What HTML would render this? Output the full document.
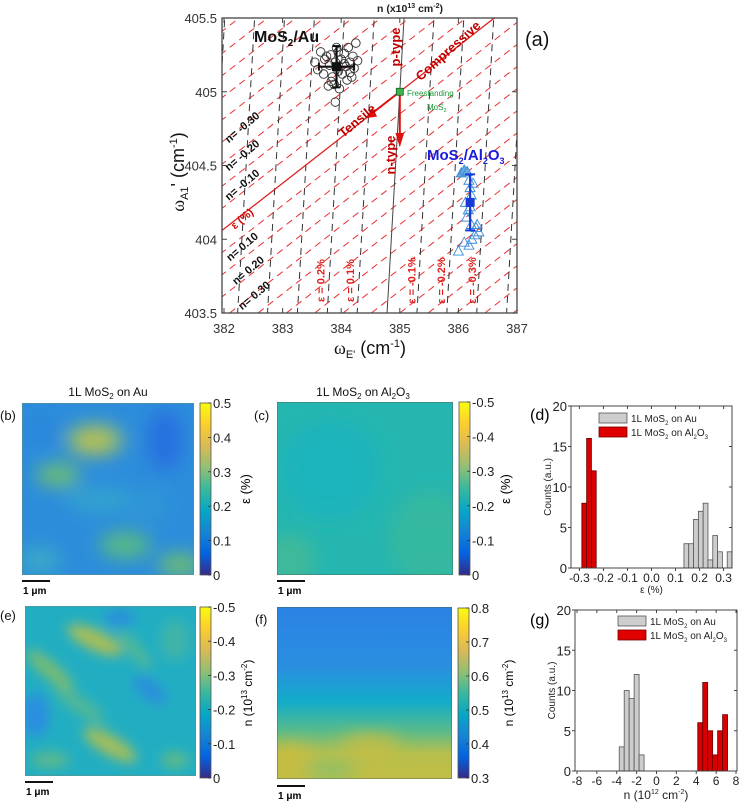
<!DOCTYPE html>
<html><head><meta charset="utf-8">
<style>
html,body{margin:0;padding:0;background:#fff}
svg{display:block;font-family:"Liberation Sans",Arial,sans-serif}
</style></head>
<body>
<svg id="fig" width="742" height="805" viewBox="0 0 742 805" xmlns="http://www.w3.org/2000/svg">
<defs>
<linearGradient id="parula" x1="0" y1="1" x2="0" y2="0">
<stop offset="0" stop-color="#352A87"/><stop offset="0.125" stop-color="#0363E1"/><stop offset="0.25" stop-color="#1485D4"/><stop offset="0.375" stop-color="#06A7C6"/><stop offset="0.5" stop-color="#38B99E"/><stop offset="0.625" stop-color="#92BF73"/><stop offset="0.75" stop-color="#D9BA56"/><stop offset="0.875" stop-color="#FCCE2E"/><stop offset="1" stop-color="#F9FB0E"/>
</linearGradient>
<filter id="blur8" x="-30%" y="-30%" width="160%" height="160%"><feGaussianBlur stdDeviation="9"/></filter>
<filter id="blur5" x="-30%" y="-30%" width="160%" height="160%"><feGaussianBlur stdDeviation="6"/></filter>
<clipPath id="clipA"><rect x="222" y="18" width="295" height="295"/></clipPath>
<clipPath id="clipB"><rect x="22" y="403" width="172" height="172"/></clipPath>
<clipPath id="clipC"><rect x="277" y="402" width="176" height="173"/></clipPath>
<clipPath id="clipE"><rect x="25" y="606" width="171" height="170"/></clipPath>
<clipPath id="clipF"><rect x="277" y="607" width="175" height="172"/></clipPath>
<linearGradient id="fgrad" x1="0" y1="0" x2="0" y2="1">
<stop offset="0" stop-color="#2b82e4"/><stop offset="0.35" stop-color="#2a8fe0"/><stop offset="0.55" stop-color="#12acc9"/><stop offset="0.72" stop-color="#58bb8c"/><stop offset="0.85" stop-color="#b6bf4c"/><stop offset="1" stop-color="#c2bd44"/>
</linearGradient>
</defs>

<!-- ================= PANEL A ================= -->
<g id="panelA">
<rect x="222" y="18" width="295" height="295" fill="#fff"/>
<g id="aLines" clip-path="url(#clipA)"></g>
<g id="aMarks"></g>
<rect x="222" y="18" width="295" height="295" fill="none" stroke="#444" stroke-width="1.3"/>
<g id="aTicks"></g>
<text x="410" y="12" font-size="10.5" font-weight="bold" text-anchor="middle" fill="#222">n (x10<tspan font-size="7" dy="-4">13</tspan><tspan dy="4"> cm</tspan><tspan font-size="7" dy="-4">-2</tspan><tspan dy="4">)</tspan></text>
<text x="525" y="46" font-size="20" fill="#111">(a)</text>
<text x="370" y="354" font-size="18" text-anchor="middle" fill="#111"><tspan font-family="Liberation Serif">ω</tspan><tspan font-size="11" dy="4">E'</tspan><tspan dy="-4"> (cm</tspan><tspan font-size="11" dy="-7">-1</tspan><tspan dy="7">)</tspan></text>
<text transform="translate(184,172) rotate(-90)" font-size="18" text-anchor="middle" fill="#111"><tspan font-family="Liberation Serif">ω</tspan><tspan font-size="11" dy="4">A1</tspan><tspan dy="-4">' (cm</tspan><tspan font-size="11" dy="-7">-1</tspan><tspan dy="7">)</tspan></text>
<text x="254" y="42" font-size="16" font-weight="bold" fill="#111">MoS<tspan font-size="10" dy="4">2</tspan><tspan dy="-4">/Au</tspan></text>
<text x="427" y="160" font-size="15" font-weight="bold" fill="#1a1adc">MoS<tspan font-size="9" dy="4">2</tspan><tspan dy="-4">/Al</tspan><tspan font-size="9" dy="4">2</tspan><tspan dy="-4">O</tspan><tspan font-size="9" dy="4">3</tspan></text>
<text transform="translate(400,47) rotate(-90)" font-size="13" font-weight="bold" fill="#c00000" text-anchor="middle">p-type</text>
<text transform="translate(395,155) rotate(-90)" font-size="13" font-weight="bold" fill="#c00000" text-anchor="middle">n-type</text>
<text transform="translate(451,54) rotate(-42)" font-size="13" font-weight="bold" fill="#c00000" text-anchor="middle">Compressive</text>
<text transform="translate(360,124) rotate(-40)" font-size="13" font-weight="bold" fill="#c00000" text-anchor="middle">Tensile</text>
<text x="407" y="96" font-size="8" fill="#1a9a3a">Freestanding</text>
<text x="427" y="110" font-size="8" fill="#1a9a3a">MoS<tspan font-size="5.5" dy="2">2</tspan></text>
</g>

<!-- ================= MAPS ================= -->
<text x="108" y="396" font-size="12" text-anchor="middle" fill="#111">1L MoS<tspan font-size="8" dy="3">2</tspan><tspan dy="-3"> on Au</tspan></text>
<text x="363" y="396" font-size="12" text-anchor="middle" fill="#111">1L MoS<tspan font-size="8" dy="3">2</tspan><tspan dy="-3"> on Al</tspan><tspan font-size="8" dy="3">2</tspan><tspan dy="-3">O</tspan><tspan font-size="8" dy="3">3</tspan></text>
<text x="0" y="420" font-size="13" fill="#111">(b)</text>
<text x="254" y="420" font-size="13" fill="#111">(c)</text>
<text x="0" y="620" font-size="13" fill="#111">(e)</text>
<text x="255" y="624" font-size="13" fill="#111">(f)</text>

<!-- map b -->
<g clip-path="url(#clipB)">
<rect x="22" y="403" width="172" height="172" fill="#2c8ddb"/>
<g filter="url(#blur8)">
<ellipse cx="95" cy="440" rx="28" ry="16" fill="#9cc064"/>
<ellipse cx="92" cy="442" rx="12" ry="7" fill="#c8bd48"/>
<ellipse cx="58" cy="475" rx="22" ry="12" fill="#6cbb78"/>
<ellipse cx="125" cy="545" rx="26" ry="14" fill="#56b888"/>
<ellipse cx="180" cy="565" rx="22" ry="12" fill="#6cbc74"/>
<ellipse cx="165" cy="440" rx="18" ry="30" fill="#2570e0"/>
<ellipse cx="40" cy="430" rx="18" ry="14" fill="#2a86dc"/>
<ellipse cx="100" cy="500" rx="35" ry="14" fill="#30a0d0"/>
<ellipse cx="40" cy="560" rx="20" ry="14" fill="#3aa8c8"/>
<ellipse cx="150" cy="505" rx="18" ry="18" fill="#2e96d6"/>
</g>
<rect x="22" y="403" width="172" height="172" fill="none" stroke="#6a8a80" stroke-width="1"/>
</g>
<!-- map c -->
<g clip-path="url(#clipC)">
<rect x="277" y="402" width="176" height="173" fill="#25b6b0"/>
<g filter="url(#blur8)">
<ellipse cx="330" cy="470" rx="50" ry="50" fill="#1cb4bc"/>
<ellipse cx="430" cy="540" rx="40" ry="50" fill="#36b8a0"/>
<ellipse cx="290" cy="560" rx="25" ry="25" fill="#40b99a"/>
</g>
<rect x="277" y="402" width="176" height="173" fill="none" stroke="#4a6a60" stroke-width="1"/>
</g>
<!-- map e -->
<g clip-path="url(#clipE)">
<rect x="25" y="606" width="171" height="170" fill="#22aec2"/>
<g filter="url(#blur5)">
<ellipse cx="95" cy="640" rx="30" ry="10" fill="#a8bd58" transform="rotate(25 95 640)"/>
<ellipse cx="120" cy="618" rx="16" ry="8" fill="#2a8ede"/>
<ellipse cx="50" cy="670" rx="30" ry="8" fill="#7cbc70" transform="rotate(40 50 670)"/>
<ellipse cx="110" cy="745" rx="30" ry="10" fill="#a2bd5c" transform="rotate(30 110 745)"/>
<ellipse cx="35" cy="715" rx="14" ry="22" fill="#2a8ee0"/>
<ellipse cx="150" cy="690" rx="20" ry="10" fill="#2a90dc" transform="rotate(40 150 690)"/>
<ellipse cx="80" cy="705" rx="30" ry="8" fill="#52b894" transform="rotate(35 80 705)"/>
<ellipse cx="50" cy="760" rx="20" ry="8" fill="#5cb98c"/>
<ellipse cx="175" cy="640" rx="15" ry="20" fill="#40b4a8"/>
<ellipse cx="135" cy="650" rx="25" ry="6" fill="#58b890" transform="rotate(50 135 650)"/>
<ellipse cx="175" cy="760" rx="14" ry="8" fill="#60ba88"/>
</g>
<rect x="25" y="606" width="171" height="170" fill="none" stroke="#6a8a80" stroke-width="1"/>
</g>
<!-- map f -->
<g clip-path="url(#clipF)">
<rect x="277" y="607" width="175" height="172" fill="url(#fgrad)"/>
<g filter="url(#blur8)">
<ellipse cx="330" cy="770" rx="25" ry="10" fill="#8cc068"/>
<ellipse cx="290" cy="760" rx="20" ry="15" fill="#c8bc40"/>
<ellipse cx="370" cy="745" rx="30" ry="10" fill="#c6bd42"/>
</g>
<rect x="277" y="607" width="175" height="172" fill="none" stroke="#4a6a60" stroke-width="1"/>
</g>

<!-- scale bars -->
<g><rect x="22" y="580" width="28" height="2" fill="#111"/><text x="23" y="594" font-size="10" font-weight="bold">1 μm</text></g>
<g><rect x="277" y="580" width="28" height="2" fill="#111"/><text x="278" y="594" font-size="10" font-weight="bold">1 μm</text></g>
<g><rect x="25" y="781" width="28" height="2" fill="#111"/><text x="26" y="795" font-size="10" font-weight="bold">1 μm</text></g>
<g><rect x="277" y="785" width="28" height="2" fill="#111"/><text x="278" y="799" font-size="10" font-weight="bold">1 μm</text></g>

<g id="cbars"></g>
<text transform="translate(250,489) rotate(-90)" font-size="13" text-anchor="middle">ε (%)</text>
<text transform="translate(510,489) rotate(-90)" font-size="13" text-anchor="middle">ε (%)</text>
<text transform="translate(252,693) rotate(-90)" font-size="12" text-anchor="middle">n (10<tspan font-size="8" dy="-5">13</tspan><tspan dy="5"> cm</tspan><tspan font-size="8" dy="-5">-2</tspan><tspan dy="5">)</tspan></text>
<text transform="translate(513,693) rotate(-90)" font-size="12" text-anchor="middle">n (10<tspan font-size="8" dy="-5">13</tspan><tspan dy="5"> cm</tspan><tspan font-size="8" dy="-5">-2</tspan><tspan dy="5">)</tspan></text>

<!-- histograms -->
<g id="histD"></g>
<g id="histG"></g>
<text x="530" y="420" font-size="16">(d)</text>
<text x="530" y="625" font-size="16">(g)</text>
</svg>

<script>
// ---------- Panel (a) data ----------
const aXTicks = [382, 383, 384, 385, 386, 387];
const aYTicks = [403.5, 404, 404.5, 405, 405.5];
const strainOffsets = [-14,-13,-12,-11,-10,-9,-8,-7,-6,-5,-4,-3,-2,-1,1,2,3,4,5,6,7,8,9,10,11,12,13,14,15];
const dopingOffsets = [-6,-5,-4,-3,-2,-1,1,2,3,4,5];
const auE = [383.55,383.6,383.65,383.7,383.72,383.78,383.8,383.82,383.85,383.88,383.9,383.92,383.95,383.97,384.0,384.02,384.05,384.08,384.1,384.12,384.15,384.18,384.2,384.22,384.25,384.28,383.75,383.9,384.05,383.95,384.15,383.83];
const auA = [405.2,405.15,405.27,405.12,405.22,405.04,405.18,405.25,405.1,405.05,405.2,405.3,405.14,405.02,405.22,405.12,405.26,405.17,405.08,405.3,405.2,405.1,405.24,405.16,405.33,405.21,405.24,404.93,405.19,405.27,405.13,405.07];
const alE = [386.05,386.1,386.15,386.18,386.2,386.22,386.25,386.12,386.17,386.2,386.14,386.22,386.3,386.35,386.28,386.1,386.18,386.23,386.0,386.32];
const alA = [404.45,404.47,404.46,404.4,404.35,404.3,404.38,404.25,404.2,404.22,404.15,404.1,404.08,404.05,404.03,403.98,403.96,404.0,403.92,404.1];
const auMean = [383.92, 405.17], auErrE = 0.3, auErrA = 0.14;
const alMean = [386.2, 404.25], alErrA = 0.19;
const nLabels = ["n= -0.30","n= -0.20","n= -0.10","ε (%)","n= 0.10","n= 0.20","n= 0.30"];
const nLabelA1 = [404.74, 404.55, 404.35, 404.12, 403.93, 403.77, 403.6];
const epsLabels = ["ε = 0.2%","ε = 0.1%","ε = -0.1%","ε = -0.2%","ε = -0.3%"];
const epsLabelE = [383.65, 384.15, 385.2, 385.7, 386.23];

const NS = "http://www.w3.org/2000/svg";
function mk(tag, attrs, parent){const e=document.createElementNS(NS,tag);for(const k in attrs)e.setAttribute(k,attrs[k]);parent.appendChild(e);return e;}
const X = v => 224 + (v-382)*58.6;
const Y = v => 313 - (v-403.5)*147.5;
const SLOPE = 0.31, SSTEP = 0.15, DSLOPE = 0.145, DSTEP = 0.51;

const gL = document.getElementById('aLines');
strainOffsets.forEach(k=>{
  const f = e => 405 + SLOPE*(e-385) + k*SSTEP;
  const l = mk('line',{x1:X(380),y1:Y(f(380)),x2:X(389),y2:Y(f(389)),stroke:'#e83030','stroke-width':1,'stroke-dasharray':'7,5'},gL);
  
  
});
dopingOffsets.forEach(m=>{
  const f = a => 385 + (a-405)*DSLOPE + m*DSTEP;
  const l = mk('line',{x1:X(f(403)),y1:Y(403),x2:X(f(406)),y2:Y(406),stroke:'#333','stroke-width':1,'stroke-dasharray':'7,5'},gL);
  
  
});
{
  const f = e => 405 + SLOPE*(e-385);
  const l = mk('line',{x1:X(380),y1:Y(f(380)),x2:X(389),y2:Y(f(389)),stroke:'#e02020','stroke-width':1.3},gL);
  
  
  const g = a => 385 + (a-405)*DSLOPE;
  const l2 = mk('line',{x1:X(g(403)),y1:Y(403),x2:X(g(406)),y2:Y(406),stroke:'#444','stroke-width':1},gL);
  
  
}
nLabels.forEach((t,i)=>{
  const isEps = t.startsWith('ε');
  const tx = mk('text',{transform:`translate(${X(382.35)+ (i>4?(i-4)*6:0)},${Y(nLabelA1[i])}) rotate(-40)`,'font-size':11,'font-weight':'bold',fill:isEps?'#d00000':'#111','text-anchor':'middle'},gL);
  tx.textContent=t;
  
  
});
epsLabels.forEach((t,i)=>{
  const tx = mk('text',{transform:`translate(${X(epsLabelE[i])+4},${Y(403.72)}) rotate(-90)`,'font-size':11,'font-weight':'bold',fill:'#e02020','text-anchor':'middle'},gL);
  tx.textContent=t;
  
  
});

const gM = document.getElementById('aMarks');
auE.forEach((e,i)=>{
  const c = mk('circle',{cx:X(e),cy:Y(auA[i]),r:4.3,fill:'none',stroke:'#333','stroke-width':0.9},gM);
  
  
});
alE.forEach((e,i)=>{
  const x=X(e), y=Y(alA[i]);
  const p = mk('polygon',{points:`${x},${y-5} ${x-5},${y+4} ${x+5},${y+4}`,fill:i<3?'#6aa8e0':'none',stroke:'#3a8ad8','stroke-width':0.9},gM);
  
  
});
{
  const g = mk('g',{},gM);
  
  
  const cx=X(auMean[0]), cy=Y(auMean[1]);
  mk('line',{x1:X(auMean[0]-auErrE),y1:cy,x2:X(auMean[0]+auErrE),y2:cy,stroke:'#111','stroke-width':2.2},g);
  mk('line',{x1:cx,y1:Y(auMean[1]-auErrA),x2:cx,y2:Y(auMean[1]+auErrA),stroke:'#111','stroke-width':2.2},g);
  [auMean[0]-auErrE,auMean[0]+auErrE].forEach(v=>mk('line',{x1:X(v),y1:cy-4,x2:X(v),y2:cy+4,stroke:'#111','stroke-width':2},g));
  [auMean[1]-auErrA,auMean[1]+auErrA].forEach(v=>mk('line',{x1:cx-4,y1:Y(v),x2:cx+4,y2:Y(v),stroke:'#111','stroke-width':2},g));
  mk('rect',{x:cx-4.5,y:cy-4.5,width:9,height:9,fill:'#111'},g);
  const g2 = mk('g',{},gM);
  
  
  const ax=X(alMean[0]), ay=Y(alMean[1]);
  mk('line',{x1:ax,y1:Y(alMean[1]-alErrA),x2:ax,y2:Y(alMean[1]+alErrA),stroke:'#1a3ad8','stroke-width':2.2},g2);
  [alMean[1]-alErrA,alMean[1]+alErrA].forEach(v=>mk('line',{x1:ax-5,y1:Y(v),x2:ax+5,y2:Y(v),stroke:'#1a3ad8','stroke-width':2},g2));
  mk('rect',{x:ax-4.5,y:ay-4.5,width:9,height:9,fill:'#1a3ad8'},g2);
  const ga = mk('g',{stroke:'#e01010','stroke-width':2,fill:'#e01010'},gM);
  
  
  const ox=X(385), oy=Y(405);
  mk('line',{x1:ox,y1:oy,x2:ox,y2:Y(404.7)},ga);
  mk('polygon',{points:`${ox-3},${Y(404.7)-2} ${ox+3},${Y(404.7)-2} ${ox},${Y(404.66)+2}`},ga);
  const tx=X(384.45), ty=Y(404.83);
  mk('line',{x1:ox,y1:oy,x2:tx,y2:ty},ga);
  mk('polygon',{points:`${tx},${ty} ${tx+8},${ty-1} ${tx+5},${ty-7}`},ga);
  const sq = mk('rect',{x:ox-3.5,y:oy-3.5,width:7,height:7,fill:'#3cb44a',stroke:'#1a5a20','stroke-width':0.8},gM);
  
  
}
const gT = document.getElementById('aTicks');
aXTicks.forEach(v=>{
  mk('line',{x1:X(v),y1:313,x2:X(v),y2:308,stroke:'#444'},gT);
  mk('line',{x1:X(v),y1:18,x2:X(v),y2:23,stroke:'#444'},gT);
  const t = mk('text',{x:X(v),y:333,'font-size':13,'text-anchor':'middle',fill:'#333'},gT);
  t.textContent=v;
  
  
});
aYTicks.forEach(v=>{
  mk('line',{x1:222,y1:Y(v),x2:227,y2:Y(v),stroke:'#444'},gT);
  mk('line',{x1:517,y1:Y(v),x2:512,y2:Y(v),stroke:'#444'},gT);
  const t = mk('text',{x:217,y:Y(v)+5,'font-size':13,'text-anchor':'end',fill:'#333'},gT);
  t.textContent=v;
  
  
});

// ---------- Colorbars ----------
const cbB = ["0.5","0.4","0.3","0.2","0.1","0"];
const cbC = ["-0.5","-0.4","-0.3","-0.2","-0.1","0"];
const cbE = ["-0.5","-0.4","-0.3","-0.2","-0.1","0"];
const cbF = ["0.8","0.7","0.6","0.5","0.4","0.3"];
const gC = document.getElementById('cbars');
[[cbB,200,403,575,'colorbar-b'],[cbC,459,402,575,'colorbar-c'],[cbE,200,607,778,'colorbar-e'],[cbF,458,608,778,'colorbar-f']].forEach(([labs,x,y0,y1,name])=>{
  const g = mk('g',{},gC);
  
  
  mk('rect',{x:x,y:y0,width:11,height:y1-y0,fill:'url(#parula)',stroke:'#555','stroke-width':0.8},g);
  labs.forEach((s,i)=>{
    const y = y0 + (y1-y0)*i/(labs.length-1);
    mk('line',{x1:x+8,y1:y,x2:x+11,y2:y,stroke:'#333','stroke-width':0.8},g);
    const t = mk('text',{x:x+13,y:y+5,'font-size':13,fill:'#222'},g);
    t.textContent=s;
    
    
  });
});

// ---------- Histograms ----------
const dAuCenters = [0.145,0.165,0.185,0.205,0.225,0.245,0.265,0.285,0.305,0.325];
const dAuCounts  = [3,3,6,7,8,1,4,2,0,2];
const dAlCenters = [-0.28,-0.26,-0.24];
const dAlCounts  = [8,16,12];
const dXTicks = [-0.3,-0.2,-0.1,0.0,0.1,0.2,0.3];
const gAuCenters = [-3.5,-3,-2.5,-2,-1.5];
const gAuCounts  = [3,10,9,12,2];
const gAlCenters = [4.4,4.9,5.4,5.9,6.4,6.9];
const gAlCounts  = [6,11,5,2,5,7];
const gXTicks = [-8,-6,-4,-2,0,2,4,6,8];
const yTicksH = [0,5,10,15,20];

function hist(id, L,R,T,B, xmin,xmax, bw, auC,auN, alC,alN, xticks, fmt, xlabelHTML, legY){
  const g = document.getElementById(id);
  const HX = v => L + (v-xmin)/(xmax-xmin)*(R-L);
  const HY = v => B - v/20*(B-T);
  const draw=(cs,ns,fill,stroke,name)=>cs.forEach((c,i)=>{ if(!ns[i])return;
    const r = mk('rect',{x:HX(c-bw/2),y:HY(ns[i]),width:HX(c+bw/2)-HX(c-bw/2),height:B-HY(ns[i]),fill:fill,stroke:stroke,'stroke-width':0.8},g);
    
    
  });
  draw(auC,auN,'#cdcdcd','#555','bar-au');
  draw(alC,alN,'#d80000','#6a0000','bar-al2o3');
  mk('rect',{x:L,y:T,width:R-L,height:B-T,fill:'none',stroke:'#444','stroke-width':1},g);
  xticks.forEach(v=>{
    mk('line',{x1:HX(v),y1:B,x2:HX(v),y2:B+3,stroke:'#444'},g);
    mk('line',{x1:HX(v),y1:T,x2:HX(v),y2:T+3,stroke:'#444'},g);
    const t = mk('text',{x:HX(v),y:B+14,'font-size':12,'text-anchor':'middle',fill:'#222'},g);
    t.textContent=fmt(v);
    
    
  });
  yTicksH.forEach(v=>{
    mk('line',{x1:L-3,y1:HY(v),x2:L,y2:HY(v),stroke:'#444'},g);
    mk('line',{x1:R,y1:HY(v),x2:R-3,y2:HY(v),stroke:'#444'},g);
    const t = mk('text',{x:L-4,y:HY(v)+5,'font-size':13,'text-anchor':'end',fill:'#222'},g);
    t.textContent=v;
    
    
  });
  const yl = mk('text',{transform:`translate(${L-20},${(T+B)/2}) rotate(-90)`,'font-size':10,'text-anchor':'middle',fill:'#222'},g);
  yl.textContent='Counts (a.u.)';
  
  
  const xl = mk('text',{x:(L+R)/2,y:B+(xlabelHTML.big?28:25),'font-size':xlabelHTML.big?12:10,'text-anchor':'middle',fill:'#222'},g);
  xl.innerHTML = xlabelHTML.s;
  
  
  const lx = legY[0];
  const l1 = mk('rect',{x:lx,y:legY[1],width:28,height:10,fill:'#cdcdcd',stroke:'#555','stroke-width':0.8},g);
  
  
  const t1 = mk('text',{x:lx+32,y:legY[1]+9,'font-size':10,fill:'#222'},g);
  t1.innerHTML='1L MoS<tspan font-size="6" dy="3">2</tspan><tspan dy="-3"> on Au</tspan>';
  
  
  const l2 = mk('rect',{x:lx,y:legY[1]+14,width:28,height:10,fill:'#e00000',stroke:'#700','stroke-width':0.8},g);
  
  
  const t2 = mk('text',{x:lx+32,y:legY[1]+23,'font-size':10,fill:'#222'},g);
  t2.innerHTML='1L MoS<tspan font-size="6" dy="3">2</tspan><tspan dy="-3"> on Al</tspan><tspan font-size="6" dy="3">2</tspan><tspan dy="-3">O</tspan><tspan font-size="6" dy="3">3</tspan>';
  
  
}
hist('histD',571,732,406,568,-0.335,0.335,0.02,dAuCenters,dAuCounts,dAlCenters,dAlCounts,dXTicks,v=>v.toFixed(1),{s:'ε (%)'},[599,413]);
hist('histG',575,737,610,771,-8.2,8.1,0.5,gAuCenters,gAuCounts,gAlCenters,gAlCounts,gXTicks,v=>String(v),{big:true,s:'n (10<tspan font-size="7" dy="-5">12</tspan><tspan dy="5"> cm</tspan><tspan font-size="7" dy="-5">-2</tspan><tspan dy="5">)</tspan>'},[618,616]);
</script>
</body></html>
